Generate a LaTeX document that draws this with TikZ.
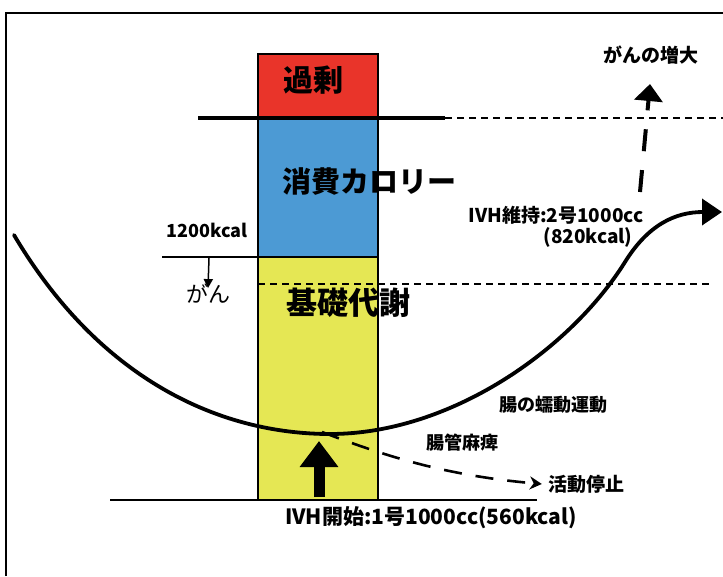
\documentclass[tikz,border=0pt]{standalone}
\usepackage{fontspec}
\setmainfont{Noto Sans CJK JP}
\usetikzlibrary{arrows.meta}
\definecolor{cred}{RGB}{233,52,42}
\definecolor{cblue}{RGB}{76,154,212}
\definecolor{cyel}{RGB}{229,231,84}
\begin{document}
\begin{tikzpicture}[x=1pt,y=-1pt,
  box/.style={draw=black, line width=1.2pt, inner sep=0pt, outer sep=0pt},
  lbl/.style={font=\bfseries\fontsize{18}{18}\selectfont, inner sep=0pt},
  big/.style={font=\bfseries\fontsize{30}{30}\selectfont, inner sep=0pt},
  thinline/.style={line width=1.3pt},
  dashline/.style={line width=1.4pt, dash pattern=on 7pt off 5pt},
  curveline/.style={line width=3.8pt, line cap=round},
]
\useasboundingbox (0,0) rectangle (723,576);
\fill[white] (0,0) rectangle (723,576);
% frame
\draw[thinline] (6,576) -- (6,13) -- (723,13);
% column
\node[box, fill=cred, minimum width=120pt, minimum height=64pt] (red) at (318,86) {};
\node[box, fill=cblue, minimum width=120pt, minimum height=139pt] (blue) at (318,187.5) {};
\node[box, fill=cyel, minimum width=120pt, minimum height=243pt] (yel) at (318,378.5) {};
% lines
\coordinate (tl) at (198,118);
\coordinate (tm) at (445,118);
\coordinate (tr) at (723,118);
\draw[line width=4pt] (tl) -- (tm);
\draw[dashline] (tm) -- (tr);
\coordinate (dl) at (258,284);
\coordinate (dr) at (712,284);
\draw[dashline] (dl) -- (dr);
\coordinate (kl) at (162,257);
\draw[thinline] (kl) -- (yel.north west);
\coordinate (bl) at (110,500);
\coordinate (br) at (537,500);
\draw[thinline] (bl) -- (br);
% big texts
\node[big] (kajo) at (313,80) {過剰};
\node[big, font=\bfseries\fontsize{29}{29}\selectfont] (shohi) at (369,182) {消費カロリー};
\node[big, font=\bfseries\fontsize{31}{31}\selectfont] (kiso) at (348,303) {基礎代謝};
% left labels
\node[lbl, font=\bfseries\fontsize{18}{18}\selectfont] (kcal) at (207,230) {1200kcal};
\node[lbl, font=\fontsize{22}{22}\selectfont] (gan) at (208,294) {がん};
\coordinate (ka) at (209,258);
\draw[line width=1.5pt, -{Triangle[width=9pt,length=9pt]}] (ka) -- ([yshift=-4pt]gan.north);
% curve
\coordinate (c0) at (14,235);
\coordinate (c1) at (330,434);
\coordinate (c2) at (625,262);
\coordinate (c3) at (722,212);
\draw[curveline, -{Triangle[width=26pt,length=20pt]}] (c0) .. controls (100,380) and (220,434) .. (c1) .. controls (450,434) and (570,350) .. (c2) .. controls (648,225) and (675,212) .. (c3);
% right labels
\node[lbl, font=\bfseries\fontsize{19}{19}\selectfont] (zodai) at (651,55) {がんの増大};
\coordinate (ua) at (640,192);
\coordinate (ub) at (650,84);
\draw[line width=4pt, dash pattern=on 22pt off 19pt, -{Triangle[width=28pt,length=17pt]}] (ua) -- (ub);
\node[lbl, font=\bfseries\fontsize{19}{19}\selectfont] (iji) at (556,215) {IVH維持:2号1000cc};
\node[lbl, font=\bfseries\fontsize{19}{19}\selectfont] (iji2) at (588,237) {(820kcal)};
\node[lbl] (zendo) at (553,405) {腸の蠕動運動};
\node[lbl] (mahi) at (462,443) {腸管麻痺};
\node[lbl, font=\bfseries\fontsize{19}{19}\selectfont] (teishi) at (586,484) {活動停止};
\coordinate (ms) at (322,432);
\draw[line width=2.6pt, dash pattern=on 18pt off 14pt, -{Stealth[width=13pt,length=12pt]}] (ms) .. controls (390,458) and (450,476) .. ([xshift=-6pt]teishi.west);
% big up arrow
\coordinate (as) at (319,497);
\coordinate (ae) at (319,441);
\draw[line width=11pt, -{Triangle[width=37pt,length=26pt]}] (as) -- (ae);
\node[lbl, font=\bfseries\fontsize{21}{21}\selectfont] (kaishi) at (431,518) {IVH開始:1号1000cc(560kcal)};
\end{tikzpicture}
\end{document}
